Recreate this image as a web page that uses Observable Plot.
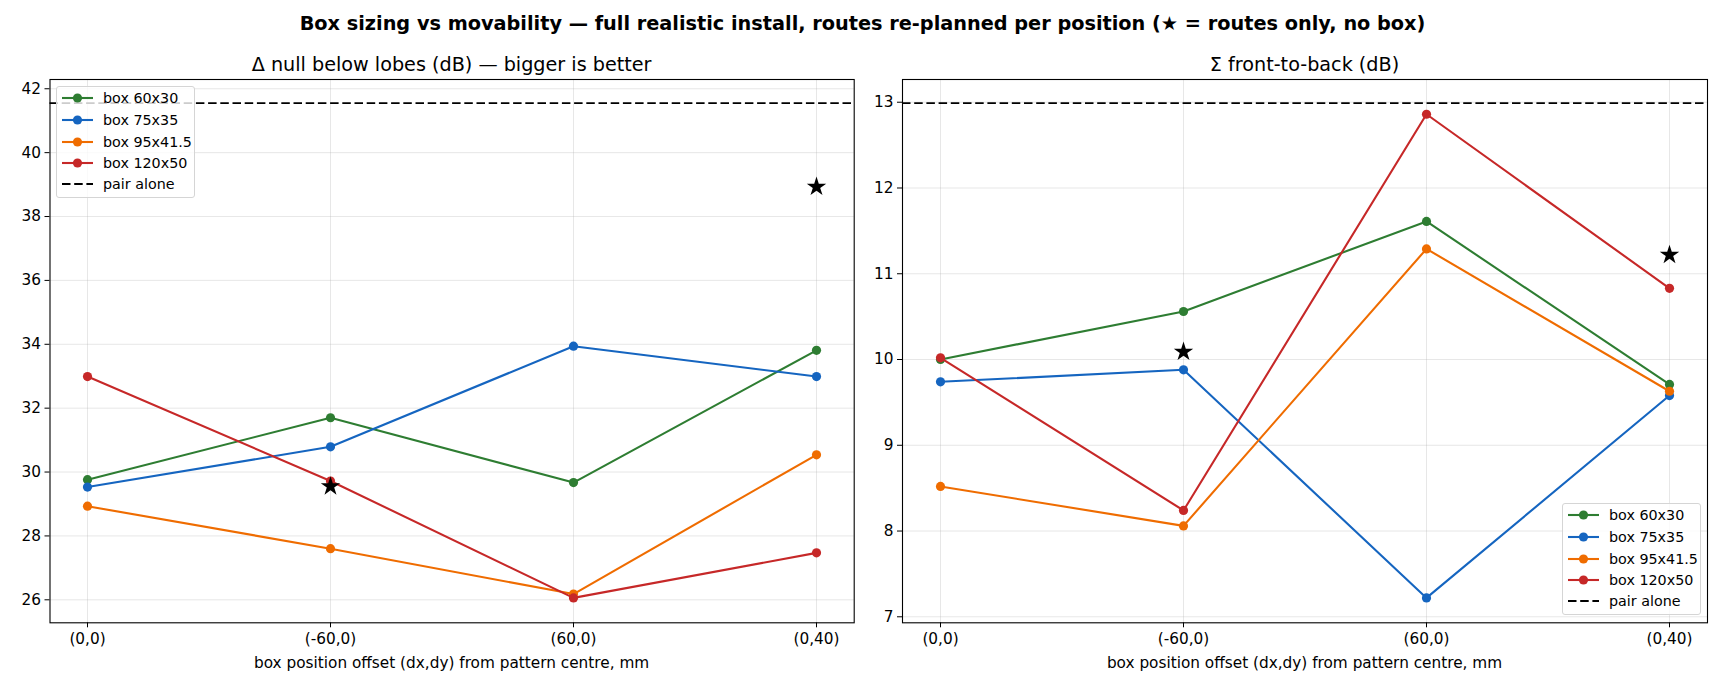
<!DOCTYPE html>
<html>
<head>
<meta charset="utf-8">
<script src="https://cdn.jsdelivr.net/npm/d3@7"></script>
<script src="https://cdn.jsdelivr.net/npm/@observablehq/plot@0.6"></script>
<style>
  html, body { margin: 0; padding: 0; background: #fff; }
  #root { position: relative; width: 1725px; height: 690px; font-family: "DejaVu Sans", sans-serif; color: #000; overflow: hidden; }
  .abs { position: absolute; }
  .suptitle { font-weight: bold; font-size: 19.3px; white-space: nowrap; transform: translate(-50%, -50%); }
  .subtitle { font-size: 19.2px; white-space: nowrap; transform: translate(-50%, -50%); }
  .xlabel { font-size: 15.3px; white-space: nowrap; transform: translate(-50%, -50%); }
  .legend { background: rgba(255,255,255,0.8); border: 1px solid #d5d5d5; border-radius: 3px; box-sizing: border-box; }
  .legend .row { position: absolute; left: 0; height: 20px; display: flex; align-items: center; font-size: 14.3px; white-space: nowrap; }
  .legend svg { position: absolute; left: 5px; top: 0; }
  .legend span { position: absolute; left: 46px; top: 50%; transform: translateY(-52%); }
</style>
</head>
<body>
<div id="root"></div>
<script>
// ---- data ----
const categories = ["(0,0)", "(-60,0)", "(60,0)", "(0,40)"];
const seriesNames = ["box 60x30", "box 75x35", "box 95x41.5", "box 120x50"];
const seriesColors = ["#2e7d32", "#1565c0", "#ef6c00", "#c62828"];
const pairAloneLabel = "pair alone";

// Δ null below lobes (dB)
const null60x30 = [29.76, 31.70, 29.67, 33.81];
const null75x35 = [29.53, 30.79, 33.94, 32.99];
const null95x41 = [28.93, 27.60, 26.18, 30.54];
const null120x50 = [32.99, 29.72, 26.06, 27.47];
const nullPairAlone = 41.55;
const nullStarPositions = ["(-60,0)", "(0,40)"];
const nullStarValues = [29.55, 38.93];
const nullTicks = [26, 28, 30, 32, 34, 36, 38, 40, 42];

// Σ front-to-back (dB)
const fb60x30 = [10.00, 10.56, 11.61, 9.71];
const fb75x35 = [9.74, 9.88, 7.22, 9.58];
const fb95x41 = [8.52, 8.06, 11.29, 9.63];
const fb120x50 = [10.02, 8.24, 12.86, 10.83];
const fbPairAlone = 12.99;
const fbStarPositions = ["(-60,0)", "(0,40)"];
const fbStarValues = [10.09, 11.22];
const fbTicks = [7, 8, 9, 10, 11, 12, 13];

const suptitleText = "Box sizing vs movability \u2014 full realistic install, routes re-planned per position (\u2605 = routes only, no box)";
const leftTitle = "\u0394 null below lobes (dB) \u2014 bigger is better";
const rightTitle = "\u03a3 front-to-back (dB)";
const xLabelText = "box position offset (dx,dy) from pattern centre, mm";

// ---- build ----
const root = document.getElementById("root");

function addText(cls, text, x, y) {
  const d = document.createElement("div");
  d.className = "abs " + cls;
  d.textContent = text;
  d.style.left = x + "px";
  d.style.top = y + "px";
  root.appendChild(d);
}

function makePanel(seriesArrays, pairAlone, starPos, starVals, yDomain, yTicks, opts) {
  const marks = [
    Plot.gridX(categories, {stroke: "#b0b0b0", strokeOpacity: 0.3, strokeWidth: 1}),
    Plot.gridY(yTicks, {stroke: "#b0b0b0", strokeOpacity: 0.3, strokeWidth: 1}),
    Plot.ruleY([pairAlone], {stroke: "black", strokeWidth: 1.8, strokeDasharray: "8.5,3.7"})
  ];
  seriesArrays.forEach((vals, i) => {
    const rows = categories.map((c, j) => ({pos: c, value: vals[j]}));
    marks.push(Plot.line(rows, {x: "pos", y: "value", stroke: seriesColors[i], strokeWidth: 2.1}));
    marks.push(Plot.dot(rows, {x: "pos", y: "value", fill: seriesColors[i], r: 4.6, stroke: null}));
  });
  const starRows = starPos.map((p, k) => ({pos: p, value: starVals[k]}));
  marks.push(Plot.dot(starRows, {x: "pos", y: "value", symbol: "star", fill: "black", stroke: null, r: 6.1}));
  marks.push(Plot.frame({stroke: "black", strokeWidth: 1.1}));
  return Plot.plot({
    width: opts.width,
    height: opts.height,
    marginLeft: opts.marginLeft,
    marginRight: opts.marginRight,
    marginTop: opts.marginTop,
    marginBottom: opts.marginBottom,
    style: {fontFamily: "DejaVu Sans", fontSize: "15.3px", color: "black", background: "transparent", overflow: "visible"},
    x: {type: "point", domain: categories, padding: 0.15, label: null, tickSize: 5, tickPadding: 5},
    y: {domain: yDomain, ticks: yTicks, tickFormat: "d", label: null, tickSize: 5, tickPadding: 4},
    marks
  });
}

function place(svg, left, top) {
  svg.style.position = "absolute";
  svg.style.left = left + "px";
  svg.style.top = top + "px";
  root.appendChild(svg);
}

const panelTop = 70;
const leftSvg = makePanel([null60x30, null75x35, null95x41, null120x50], nullPairAlone,
  nullStarPositions, nullStarValues, [25.28, 42.29], nullTicks,
  {width: 862, height: 620, marginLeft: 49.5, marginRight: 8.3, marginTop: 9, marginBottom: 67.7});
place(leftSvg, 0, panelTop);

const rightSvg = makePanel([fb60x30, fb75x35, fb95x41, fb120x50], fbPairAlone,
  fbStarPositions, fbStarValues, [6.93, 13.265], fbTicks,
  {width: 863, height: 620, marginLeft: 40, marginRight: 18, marginTop: 9, marginBottom: 67.7});
place(rightSvg, 862, panelTop);

addText("suptitle", suptitleText, 862.5, 23);
addText("subtitle", leftTitle, 451.6, 63.5);
addText("subtitle", rightTitle, 1304.5, 63.5);
addText("xlabel", xLabelText, 451.6, 663);
addText("xlabel", xLabelText, 1304.5, 663);

function addLegend(left, top) {
  const box = document.createElement("div");
  box.className = "abs legend";
  box.style.left = left + "px";
  box.style.top = top + "px";
  box.style.width = "139px";
  box.style.height = "112px";
  const rowCenters = [11.2, 32.8, 54.5, 76, 97.2];
  const entries = seriesNames.map((n, i) => ({label: n, color: seriesColors[i], dashed: false}))
    .concat([{label: pairAloneLabel, color: "black", dashed: true}]);
  entries.forEach((e, i) => {
    const row = document.createElement("div");
    row.className = "row";
    row.style.top = (rowCenters[i] - 10) + "px";
    row.style.width = "139px";
    const ns = "http://www.w3.org/2000/svg";
    const s = document.createElementNS(ns, "svg");
    s.setAttribute("width", "32");
    s.setAttribute("height", "20");
    const ln = document.createElementNS(ns, "line");
    ln.setAttribute("x1", "0"); ln.setAttribute("x2", "31");
    ln.setAttribute("y1", "10"); ln.setAttribute("y2", "10");
    ln.setAttribute("stroke", e.color);
    ln.setAttribute("stroke-width", e.dashed ? "1.8" : "2.1");
    if (e.dashed) ln.setAttribute("stroke-dasharray", "8.5,3.7");
    s.appendChild(ln);
    if (!e.dashed) {
      const c = document.createElementNS(ns, "circle");
      c.setAttribute("cx", "15.5"); c.setAttribute("cy", "10"); c.setAttribute("r", "4.6");
      c.setAttribute("fill", e.color);
      s.appendChild(c);
    }
    row.appendChild(s);
    const t = document.createElement("span");
    t.textContent = e.label;
    row.appendChild(t);
    box.appendChild(row);
  });
  root.appendChild(box);
}
addLegend(56, 86);
addLegend(1562, 503);
</script>
</body>
</html>
